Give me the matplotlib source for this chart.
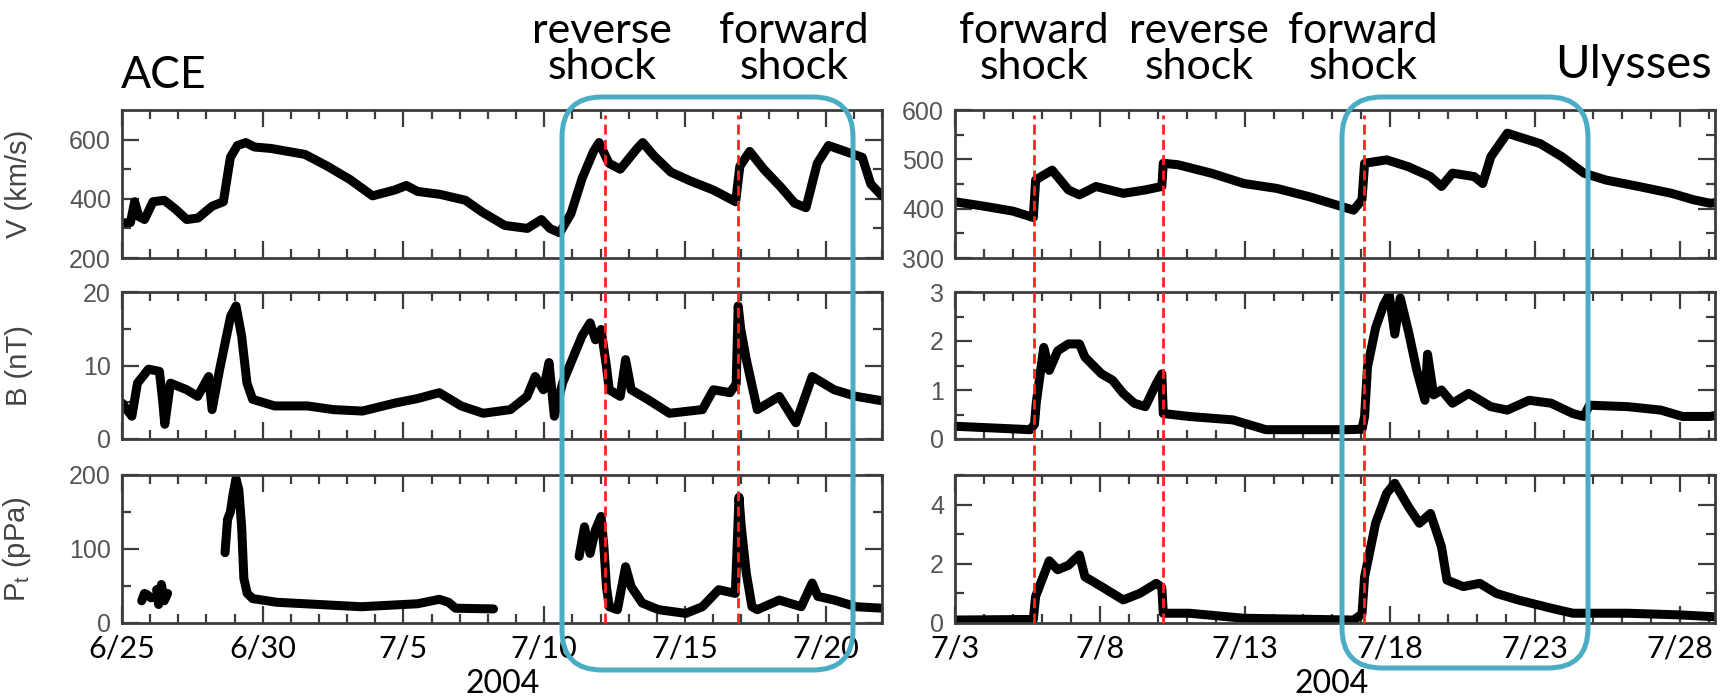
import numpy as np
import matplotlib.pyplot as plt
from matplotlib.patches import FancyBboxPatch
from matplotlib.lines import Line2D
from matplotlib.transforms import blended_transform_factory, IdentityTransform

nan = np.nan

# ACE: days since 6/25/2004
ace_ticks = [0, 5, 10, 15, 20, 25]
ace_ticklabels = ['6/25', '6/30', '7/5', '7/10', '7/15', '7/20']
ace_v_day = [0.0, 0.3, 0.45, 0.6, 0.8, 1.1, 1.5, 1.9, 2.3, 2.7, 3.2, 3.6, 3.85, 4.1, 4.4,
             4.7, 5.3, 6.5, 7.3, 8.1, 8.9, 9.7, 10.1, 10.5, 11.3, 12.2, 12.8, 13.6, 14.4, 14.9,
             15.2, 15.55, 15.95, 16.35, 16.75, 16.95, 17.3, 17.7, 18.3, 18.5, 18.9, 19.5, 20.2, 21.0, 21.8,
             21.95, 22.3, 22.8, 23.4, 23.9, 24.3, 24.7, 25.1, 25.7, 26.3, 26.6, 27.0]
ace_v = [318, 320, 390, 340, 330, 390, 395, 365, 330, 335, 375, 390, 540, 580, 590,
         575, 570, 550, 510, 465, 410, 430, 445, 425, 415, 395, 355, 310, 300, 330,
         300, 285, 350, 470, 560, 590, 520, 500, 570, 590, 545, 490, 460, 430, 390,
         510, 560, 500, 440, 385, 370, 520, 580, 560, 540, 450, 410]
ace_b_day = [0, 0.35, 0.55, 0.94, 1.33, 1.45, 1.52, 1.72, 2.3, 2.69, 3.08, 3.2, 3.47, 3.86, 4.05,
             4.25, 4.44, 4.64, 5.42, 6.59, 7.5, 8.54, 9.71, 10.5, 11.27, 12.05, 12.83, 13.8, 14.39, 14.68,
             14.97, 15.17, 15.36, 15.65, 15.95, 16.34, 16.63, 16.82, 17.02, 17.21, 17.31, 17.7, 17.89, 18.09, 18.67,
             19.45, 20.62, 21.01, 21.6, 21.82, 21.89, 21.98, 22.18, 22.57, 23.35, 23.94, 24.52, 24.91, 25.3, 26.08, 27.0]
ace_b = [4.9, 3.1, 7.6, 9.5, 9.2, 5, 2.0, 7.6, 6.7, 5.8, 8.5, 4, 9.5, 16.7, 18.1,
         14, 7.6, 5.4, 4.5, 4.5, 4.0, 3.8, 4.9, 5.5, 6.3, 4.5, 3.5, 4, 5.8, 8.5,
         6.7, 10.4, 3.1, 7.6, 10.4, 14, 15.8, 13.5, 14.9, 9.9, 6.7, 5.8, 10.8, 6.7, 5.4,
         3.5, 4, 6.7, 6.3, 7.5, 18.1, 15, 10.8, 4, 5.8, 2.2, 8.5, 7.6, 6.7, 5.8, 5.2]
ace_pt_day = [0.7, 0.8, 0.9, 1.03, nan, 1.23, 1.3, 1.4, 1.5, 1.62, nan, 3.66, 3.75, 3.85, 3.95,
              4.05, 4.15, 4.25, 4.33, 4.45, 4.64, 5.5, 6.5, 7.5, 8.5, 9.5, 10.5, 11.27, 11.6, 11.85,
              13.2, nan, 16.24, 16.43, 16.63, 16.82, 17.02, 17.12, 17.21, 17.31, 17.6, 17.89, 18.09, 18.48, 19.06,
              20.03, 20.62, 21.2, 21.79, 21.92, 22.0, 22.18, 22.38, 22.57, 23.35, 24.13, 24.52, 24.72, 25.3, 26.08, 27.0]
ace_pt = [30, 40, 38, 34, nan, 45, 25, 52, 30, 40, nan, 95, 140, 150, 175,
          195, 180, 130, 60, 40, 33, 28, 26, 24, 22, 24, 26, 32, 28, 20,
          19, nan, 90, 130, 94, 126, 144, 103, 49, 22, 18, 76, 49, 27, 18,
          13, 22, 45, 40, 170, 130, 67, 22, 18, 31, 22, 54, 36, 31, 22, 20]
ace_shocks = [17.17, 21.89]

# Ulysses: days since 7/3/2004
uly_ticks = [0, 5, 10, 15, 20, 25]
uly_ticklabels = ['7/3', '7/8', '7/13', '7/18', '7/23', '7/28']
uly_v_day = [0, 1.0, 2.0, 2.7, 2.78, 2.97, 3.35, 3.91, 4.29, 4.86, 5.8, 6.56, 7.13, 7.18, 7.69,
             8.83, 9.96, 11.1, 12.23, 13.18, 13.74, 14.03, 14.12, 14.88, 15.63, 16.39, 16.77, 17.15, 17.9, 18.19,
             18.47, 19.04, 19.41, 20.17, 20.93, 21.68, 22.44, 23.57, 24.71, 25.46, 26.03, 26.2]
uly_v = [414, 405, 395, 382, 458, 465, 478, 438, 428, 445, 431, 438, 445, 492, 489,
         472, 451, 441, 424, 407, 397, 418, 492, 499, 485, 465, 445, 472, 465, 451,
         505, 553, 546, 532, 505, 472, 458, 445, 431, 418, 411, 412]
uly_b_day = [0, 1.5, 2.59, 2.74, 2.8, 3.06, 3.25, 3.54, 3.91, 4.29, 4.48, 5.05, 5.43, 5.8, 6.18,
             6.56, 6.94, 7.13, 7.18, 8.07, 9.58, 10.72, 11.85, 13.5, 14.03, 14.12, 14.22, 14.5, 14.78, 14.97,
             15.16, 15.35, 15.63, 15.92, 16.2, 16.29, 16.5, 16.77, 17.15, 17.71, 18.47, 19.04, 19.79, 20.55, 21.3,
             21.68, 21.87, 23.19, 24.33, 25.08, 26.03, 26.2]
uly_b = [0.26, 0.22, 0.19, 0.3, 0.73, 1.87, 1.4, 1.8, 1.94, 1.94, 1.67, 1.33, 1.2, 0.93, 0.73,
         0.66, 1.13, 1.33, 0.52, 0.46, 0.39, 0.19, 0.19, 0.19, 0.2, 0.46, 1.47, 2.27, 2.74, 2.95,
         2.14, 2.88, 2.2, 1.4, 0.79, 1.73, 0.9, 1.0, 0.73, 0.93, 0.66, 0.59, 0.79, 0.73, 0.52,
         0.46, 0.69, 0.66, 0.59, 0.46, 0.46, 0.48]
uly_pt_day = [0, 2.7, 2.78, 3.25, 3.54, 3.91, 4.29, 4.48, 5.05, 5.8, 6.37, 6.94, 7.13, 7.18, 8.07,
              9.96, 13.74, 14.03, 14.12, 14.5, 14.88, 15.16, 15.63, 16.01, 16.39, 16.77, 16.96, 17.52, 18.09, 18.66,
              19.41, 20.55, 21.3, 23.19, 25.08, 26.2]
uly_pt = [0.1, 0.12, 0.9, 2.1, 1.8, 1.95, 2.3, 1.56, 1.23, 0.78, 1.0, 1.34, 1.2, 0.33, 0.33,
          0.16, 0.1, 0.3, 1.56, 3.37, 4.38, 4.72, 3.93, 3.37, 3.7, 2.58, 1.45, 1.23, 1.34, 1.0,
          0.78, 0.5, 0.33, 0.33, 0.27, 0.21]
uly_shocks = [2.74, 7.18, 14.1]

W, H = 1722, 700
SPINE = '#3c3c3c'
TICKGRAY = '#555555'
BOX = '#4bacc6'


def px(x0, y0, x1, y1):
    # pixel box (top-left origin) -> figure fraction rect
    return [x0 / W, 1 - y1 / H, (x1 - x0) / W, (y1 - y0) / H]


def style_axis(ax, xmax, ticks, ticklabels, ylim, ymajor, yminor, show_x):
    ax.set_xlim(0, xmax)
    ax.set_ylim(*ylim)
    ax.set_xticks(ticks)
    ax.set_xticks(np.arange(0, int(xmax) + 1), minor=True)
    ax.set_yticks(ymajor)
    ax.set_yticks(yminor, minor=True)
    for s in ax.spines.values():
        s.set_color(SPINE)
        s.set_linewidth(2.0)
    ax.tick_params(which='both', direction='in', top=True, right=True, color=SPINE, width=1.6)
    ax.tick_params(which='major', length=12)
    ax.tick_params(which='minor', length=6.5)
    ax.tick_params(axis='y', which='major', labelsize=18, labelcolor=TICKGRAY, pad=8)
    if show_x:
        ax.set_xticklabels(ticklabels)
        ax.tick_params(axis='x', labelsize=22, labelcolor='black', pad=8)
        for t in ax.get_xticklabels():
            t.set_family('Lato')
    else:
        ax.set_xticklabels([])
    for t in ax.get_yticklabels():
        t.set_family('Liberation Sans')


def main():
    fig = plt.figure(figsize=(W / 100, H / 100), dpi=100)

    rows = [(110, 258), (292, 439), (475, 623)]
    cols = [(122, 882), (955, 1715)]

    ace = [fig.add_axes(px(cols[0][0], r[0], cols[0][1], r[1])) for r in rows]
    uly = [fig.add_axes(px(cols[1][0], r[0], cols[1][1], r[1])) for r in rows]

    kw = dict(color='black', lw=6.5, solid_joinstyle='round', solid_capstyle='round')

    ace[0].plot(ace_v_day, ace_v, **kw)
    ace[1].plot(ace_b_day, ace_b, **kw)
    ace[2].plot(ace_pt_day, ace_pt, **kw)
    uly[0].plot(uly_v_day, uly_v, **kw)
    uly[1].plot(uly_b_day, uly_b, **kw)
    uly[2].plot(uly_pt_day, uly_pt, **kw)

    style_axis(ace[0], 27, ace_ticks, ace_ticklabels, (200, 700), [200, 400, 600], [300, 500], False)
    style_axis(ace[1], 27, ace_ticks, ace_ticklabels, (0, 20), [0, 10, 20], [5, 15], False)
    style_axis(ace[2], 27, ace_ticks, ace_ticklabels, (0, 200), [0, 100, 200], [50, 150], True)
    style_axis(uly[0], 26.2, uly_ticks, uly_ticklabels, (300, 600), [300, 400, 500, 600], [350, 450, 550], False)
    style_axis(uly[1], 26.2, uly_ticks, uly_ticklabels, (0, 3), [0, 1, 2, 3], [0.5, 1.5, 2.5], False)
    style_axis(uly[2], 26.2, uly_ticks, uly_ticklabels, (0, 5), [0, 2, 4], [1, 3, 5], True)

    lab = dict(fontsize=21, color='#444444', family='Liberation Sans')
    ace[0].set_ylabel('V (km/s)', **lab)
    ace[1].set_ylabel('B (nT)', **lab)
    ace[2].set_ylabel('P$_\\mathregular{t}$ (pPa)', **lab)
    for a in ace:
        a.yaxis.set_label_coords(-0.117, 0.5)

    # year under each panel
    fig.text(503 / W, 1 - 684 / H, '2004', ha='center', va='center', fontsize=23, family='Lato')
    fig.text(1332 / W, 1 - 684 / H, '2004', ha='center', va='center', fontsize=23, family='Lato')

    # shock markers
    for axes, shocks in ((ace, ace_shocks), (uly, uly_shocks)):
        tr = blended_transform_factory(axes[2].transData, fig.transFigure)
        for d in shocks:
            fig.add_artist(Line2D([d, d], [1 - 623 / H, 1 - 115 / H], transform=tr,
                                  color='#ff2020', lw=2.0, linestyle=(0, (3.6, 1.9))))

    # labels above
    txt = dict(ha='center', va='bottom', fontsize=31, family='Lato', linespacing=0.92)
    for x, s in ((602, 'reverse\nshock'), (794, 'forward\nshock'),
                 (1034, 'forward\nshock'), (1199, 'reverse\nshock'), (1363, 'forward\nshock')):
        fig.text(x / W, 1 - 86 / H, s, **txt)
    fig.text(121 / W, 1 - 88 / H, 'ACE', ha='left', va='baseline', fontsize=32, family='Lato')
    fig.text(1712 / W, 1 - 78 / H, 'Ulysses', ha='right', va='baseline', fontsize=34, family='Lato')

    # highlight boxes (pixel coordinates)
    for x0, y0, x1, y1 in ((562, 97, 853, 670), (1342, 97, 1588, 668)):
        fig.add_artist(FancyBboxPatch((x0, H - y1), x1 - x0, y1 - y0,
                                      boxstyle='round,pad=0,rounding_size=40',
                                      transform=IdentityTransform(), fill=False,
                                      ec=BOX, lw=3.6, zorder=5))

    fig.savefig('out.png', dpi=100)


if __name__ == '__main__':
    main()
